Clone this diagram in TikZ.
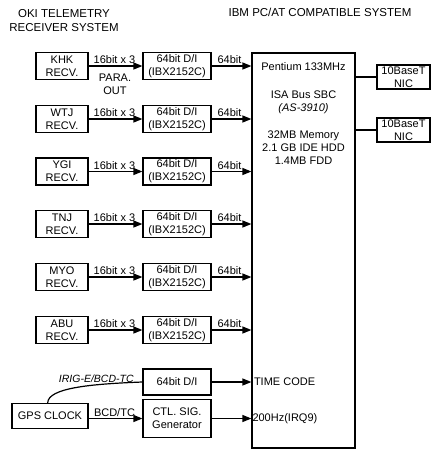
\documentclass[tikz,border=0pt]{standalone}
\usepackage{fontspec}
\setmainfont{Liberation Sans}
\usetikzlibrary{arrows.meta,calc}

\begin{document}
\begin{tikzpicture}[x=1pt,y=-1pt,>={Triangle[length=9pt,width=7pt]},
  font=\fontsize{11}{13}\selectfont,
  box/.style={draw,line width=1.2pt,inner sep=0pt,align=center},
  link/.style={line width=1.2pt}]
\useasboundingbox (0,0) rectangle (432,450);
% titles
\node[align=center,font=\fontsize{11.5}{14}\selectfont] (oki) at (64,21) {OKI TELEMETRY\\RECEIVER SYSTEM};
\node[font=\fontsize{11.5}{14}\selectfont] (ibm) at (320,12) {IBM PC/AT COMPATIBLE SYSTEM};
% main board
\node[box,minimum width=103pt,minimum height=395pt] (sbc) at (303.5,250.5) {};
\node[align=center,anchor=north] (sbctext) at (303.5,59)
  {Pentium 133MHz\\[15pt] ISA Bus SBC\\ \textit{(AS-3910)}\\[14pt] 32MB Memory\\ 2.1 GB IDE HDD\\ 1.4MB FDD};
\node[box,minimum width=53pt,minimum height=24pt] (nic1) at (403.5,77) {10BaseT\\NIC};
\node[box,minimum width=53pt,minimum height=24pt] (nic2) at (403.5,130) {10BaseT\\NIC};
\draw[link] (sbc.east |- nic1) -- (nic1);
\draw[link] (sbc.east |- nic2) -- (nic2);
% receiver rows
\foreach \n/\y in {KHK/66,WTJ/119,YGI/171.5,TNJ/224,MYO/277,ABU/330}{
  \node[box,minimum width=52pt,minimum height=27pt] (recv-\n) at (62,\y) {\n\\RECV.};
  \node[box,minimum width=68pt,minimum height=27pt] (di-\n) at (177,\y) {64bit D/I\\(IBX2152C)};
  \draw[link,->] (recv-\n) -- node[above,xshift=-1pt,inner sep=1.5pt] {16bit x 3} (di-\n);
  \draw[link,->] (di-\n.east) -- node[above,xshift=-2pt,inner sep=1.5pt] {64bit} (di-\n.east -| sbc.west);
}
\node[align=center,anchor=north] (paraout) at (115,70) {PARA.\\OUT};
% time code section
\node[box,minimum width=68pt,minimum height=26pt] (ditc) at (177,382) {64bit D/I};
\node[box,minimum width=68pt,minimum height=38pt] (ctl) at (177,418.5) {CTL. SIG.\\Generator};
\node[box,minimum width=76pt,minimum height=25pt] (gps) at (50,416) {GPS CLOCK};
\draw[link] ($(gps.north west)!0.47!(gps.north east)$) .. controls (48,388) and (90,384) .. (ditc.west)
  node[pos=0.68,above,inner sep=2pt,font=\fontsize{10.5}{13}\selectfont\itshape] {IRIG-E/BCD-TC};
\draw[link,->] (gps.east |- ctl) -- node[above,xshift=-1pt,inner sep=1.5pt] {BCD/TC} (ctl.west);
\draw[link,->] (ditc.east) -- (ditc.east -| sbc.west)
  node[right,inner sep=2pt] (tc) {TIME CODE};
\draw[link,->] (ctl.east) -- (ctl.east -| sbc.west)
  node[right,inner sep=0.5pt] (irq) {200Hz(IRQ9)};
\end{tikzpicture}
\end{document}
